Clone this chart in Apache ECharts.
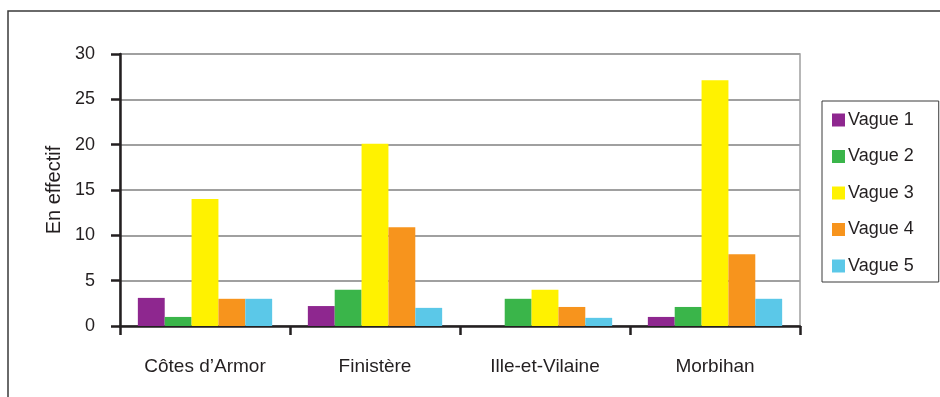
<!DOCTYPE html>
<html>
<head>
<meta charset="utf-8">
<script src="https://cdn.jsdelivr.net/npm/echarts@6/dist/echarts.min.js"></script>
<style>html,body{margin:0;padding:0;background:#fff}#c{width:940px;height:397px}</style>
</head>
<body>
<div id="c"></div>
<script>
var categories = ['Côtes d\u2019Armor', 'Finistère', 'Ille-et-Vilaine', 'Morbihan'];
var seriesNames = ['Vague 1', 'Vague 2', 'Vague 3', 'Vague 4', 'Vague 5'];
var vague1 = [3.1, 2.2, 0, 1];
var vague2 = [1, 4, 3, 2.1];
var vague3 = [14, 20.1, 4, 27.1];
var vague4 = [3, 10.9, 2.1, 7.9];
var vague5 = [3, 2, 0.9, 3];
var yTicks = [0, 5, 10, 15, 20, 25, 30];
var colors = ['#8E278F', '#3AB54A', '#FFF200', '#F7941D', '#5BC8E8'];

var allData = [vague1, vague2, vague3, vague4, vague5];
var font = '"Liberation Sans", Arial, Helvetica, sans-serif';

var chart = echarts.init(document.getElementById('c'), null, {renderer: 'canvas'});
chart.setOption({
  animation: false,
  textStyle: {fontFamily: font},
  graphic: [{
    type: 'rect',
    shape: {x: 8, y: 11, width: 1000, height: 500},
    style: {fill: 'none', stroke: '#3a3a3a', lineWidth: 1.5},
    silent: true
  }],
  grid: {left: 120, right: 140, top: 54, bottom: 71, show: true, borderColor: '#a0a0a0', borderWidth: 1.5, backgroundColor: 'transparent'},
  legend: {
    data: seriesNames,
    orient: 'vertical',
    left: 822,
    top: 101,
    itemWidth: 13,
    itemHeight: 13,
    itemGap: 18.5,
    padding: [10, 25, 7, 10],
    borderColor: '#3a3a3a',
    borderWidth: 1,
    icon: 'rect',
    itemStyle: {borderWidth: 0},
    textStyle: {fontSize: 18, color: '#231F20', fontFamily: font, padding: [0, 0, 0, -2]}
  },
  xAxis: {
    type: 'category',
    data: categories,
    axisLine: {lineStyle: {color: '#231F20', width: 2.5}},
    axisTick: {show: true, length: 9, lineStyle: {color: '#231F20', width: 2.5}},
    axisLabel: {fontSize: 19, color: '#231F20', margin: 31, fontFamily: font},
    splitLine: {show: false}
  },
  yAxis: {
    type: 'value',
    min: yTicks[0],
    max: yTicks[yTicks.length - 1],
    interval: 5,
    name: 'En effectif',
    nameLocation: 'middle',
    nameRotate: 90,
    nameGap: 53,
    nameTextStyle: {fontSize: 20, color: '#231F20', fontFamily: font},
    axisLine: {show: true, lineStyle: {color: '#231F20', width: 2.5}},
    axisTick: {show: true, length: 9, lineStyle: {color: '#231F20', width: 2.5}},
    axisLabel: {fontSize: 18, color: '#231F20', margin: 25, fontFamily: font},
    splitLine: {show: true, lineStyle: {color: '#a0a0a0', width: 2}}
  },
  series: seriesNames.map(function (n, i) {
    return {
      name: n,
      type: 'bar',
      data: allData[i],
      barGap: '0%',
      barCategoryGap: '21%',
      itemStyle: {color: colors[i]}
    };
  })
});
</script>
</body>
</html>
